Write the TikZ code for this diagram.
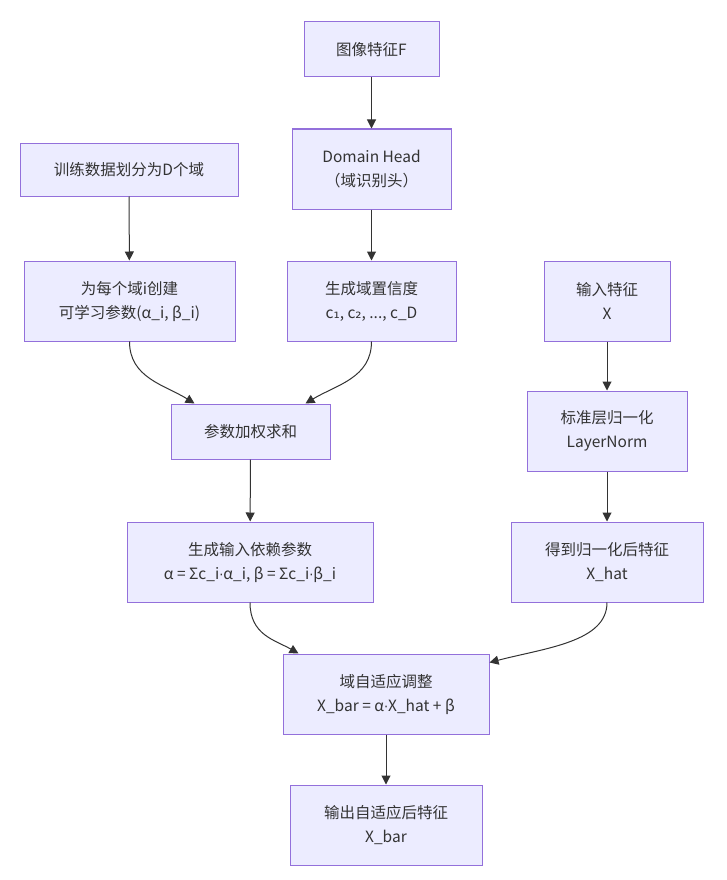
\documentclass[tikz,border=0pt]{standalone}
\usepackage{fontspec}
\setmainfont{Noto Sans CJK SC}
\newfontfamily\djv{DejaVu Sans}
\newcommand{\mdot}{{\djv\fontsize{13}{24}\selectfont ·}}
\usetikzlibrary{arrows.meta}
\definecolor{boxfill}{HTML}{ECECFF}
\definecolor{boxline}{HTML}{9370DB}
\definecolor{ink}{HTML}{333333}
\begin{document}
\begin{tikzpicture}[x=1pt,y=-1pt,
  box/.style={draw=boxline,fill=boxfill,line width=1pt,text=ink,align=center,
    inner sep=0pt,font=\fontsize{15.5}{24}\selectfont},
  conn/.style={draw=ink,line width=1pt,-{Triangle[length=9pt,width=9pt]}}]
\useasboundingbox (0,0) rectangle (726,880);
\node[box,minimum width=135pt,minimum height=55pt] (n1) at (371.5,49.5) {图像特征F};
\node[box,minimum width=159pt,minimum height=80pt] (n2) at (371.5,169) {Domain Head\\（域识别头）};
\node[box,minimum width=218pt,minimum height=53pt] (n3) at (129,169.5) {训练数据划分为D个域};
\node[box,minimum width=211pt,minimum height=80pt] (n4) at (129.5,301) {为每个域i创建\\可学习参数(α\_i, β\_i)};
\node[box,minimum width=169pt,minimum height=80pt] (n5) at (371.5,301) {生成域置信度\\c{\djv ₁}, c{\djv ₂}, ..., c\_D};
\node[box,minimum width=126pt,minimum height=80pt] (n6) at (607,301) {输入特征\\X};
\node[box,minimum width=159pt,minimum height=55pt] (n7) at (250.5,431.5) {参数加权求和};
\node[box,minimum width=160pt,minimum height=80pt] (n8) at (607,431) {标准层归一化\\LayerNorm};
\node[box,minimum width=246pt,minimum height=80pt] (n9) at (250,562) {生成输入依赖参数\\α = Σc\_i\mdot α\_i, β = Σc\_i\mdot β\_i};
\node[box,minimum width=192pt,minimum height=80pt] (n10) at (607,562) {得到归一化后特征\\X\_hat};
\node[box,minimum width=206pt,minimum height=80pt] (n11) at (386,694) {域自适应调整\\X\_bar = α\mdot X\_hat + β};
\node[box,minimum width=192pt,minimum height=80pt] (n12) at (386,825) {输出自适应后特征\\X\_bar};
\draw[conn] (n1) -- (n2);
\draw[conn] (n3) -- (n4);
\draw[conn] (n2) -- (n5);
\draw[conn] (n6) -- (n8);
\draw[conn] (n7) -- (n9);
\draw[conn] (n8) -- (n10);
\draw[conn] (n11) -- (n12);
\draw[conn] (n4.south) .. controls (129.5,378) and (165,385) .. ([xshift=24pt]n7.north west);
\draw[conn] (n5.south) .. controls (371.5,378) and (336,385) .. ([xshift=-25pt]n7.north east);
\draw[conn] (n9.south) .. controls (250,635) and (275,640) .. ([xshift=16pt]n11.north west);
\draw[conn] (n10.south) .. controls (607,642) and (545,648) .. ([yshift=-9pt]n11.north east);
\end{tikzpicture}
\end{document}
